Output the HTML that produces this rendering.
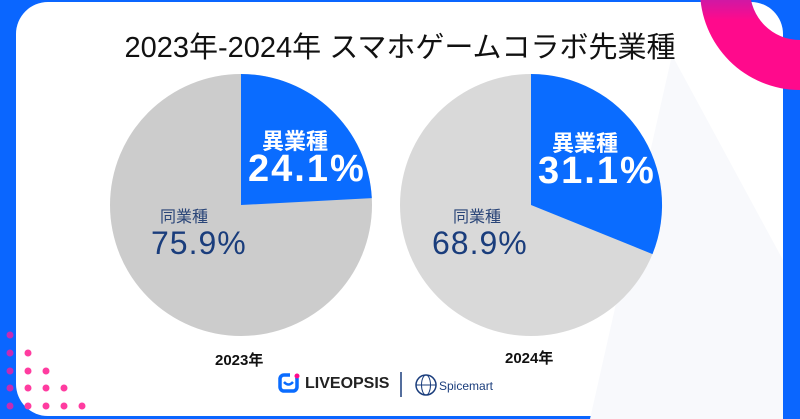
<!DOCTYPE html>
<html><head><meta charset="utf-8"><style>
html,body{margin:0;padding:0;}
body{width:800px;height:419px;overflow:hidden;background:#0a66ff;position:relative;font-family:"Liberation Sans","Noto Sans CJK JP",sans-serif;}
.card{position:absolute;left:16px;top:2px;width:767px;height:414px;background:#fff;border-radius:32px;overflow:hidden;}
.t{position:absolute;white-space:nowrap;}
</style></head><body>
<div class="card"></div>
<svg width="800" height="419" style="position:absolute;left:0;top:0">
<defs><linearGradient id="g" x1="0" y1="0" x2="0" y2="1"><stop offset="0" stop-color="#b81fb0"/><stop offset="0.3" stop-color="#ff0a8c"/><stop offset="1" stop-color="#ff0a8c"/></linearGradient></defs>
<polygon points="672,55 590,419 783,419 783,260" fill="#f8f9fc"/>
<path d="M700,-10 A100,100 0 0 0 800,90 L800,40 A50,50 0 0 1 750,-10 Z" fill="url(#g)"/>
<circle cx="241" cy="205" r="131" fill="#cccccc"/>
<path d="M241,205 L241,74 A131,131 0 0 1 371.8,198.1 Z" fill="#0a6cff"/>
<circle cx="531" cy="205" r="131" fill="#d9d9d9"/>
<path d="M531,205 L531,74 A131,131 0 0 1 652.5,254.1 Z" fill="#0a6cff"/>
<g fill="#ff3ca0">
<circle cx="10" cy="335" r="3.5" fill="#c42bb4"/>
<circle cx="10" cy="353" r="3.5" fill="#c42bb4"/><circle cx="28" cy="353" r="3.5"/>
<circle cx="10" cy="371" r="3.5" fill="#c42bb4"/><circle cx="28" cy="371" r="3.5"/><circle cx="46" cy="371" r="3.5"/>
<circle cx="10" cy="388" r="3.5" fill="#c42bb4"/><circle cx="28" cy="388" r="3.5"/><circle cx="46" cy="388" r="3.5"/><circle cx="64" cy="388" r="3.5"/>
<circle cx="10" cy="406" r="3.5" fill="#c42bb4"/><circle cx="28" cy="406" r="3.5"/><circle cx="46" cy="406" r="3.5"/><circle cx="64" cy="406" r="3.5"/><circle cx="82" cy="406" r="3.5"/>
</g>
<rect x="280" y="375" width="17" height="16" rx="4" fill="none" stroke="#0a6cff" stroke-width="3.5"/>
<rect x="290" y="370" width="10" height="8" fill="#fff"/>
<circle cx="297" cy="376" r="2.5" fill="#ff0a8c"/>
<path d="M284,382 Q288.5,387 293,382" fill="none" stroke="#0a6cff" stroke-width="2.5"/>
<line x1="401" y1="372" x2="401" y2="397" stroke="#1a3d7c" stroke-width="1.5"/>
<circle cx="426" cy="385" r="10" fill="none" stroke="#1a3d7c" stroke-width="1.5"/>
<ellipse cx="426" cy="385" rx="4.5" ry="10" fill="none" stroke="#1a3d7c" stroke-width="1"/>
<line x1="416" y1="385" x2="436" y2="385" stroke="#1a3d7c" stroke-width="1"/>
</svg>
<div class="t" style="left:0;width:800px;text-align:center;top:24px;font-size:29px;color:#111;">2023年-2024年 スマホゲームコラボ先業種</div>
<div class="t" style="left:262px;top:124px;font-size:22px;font-weight:bold;color:#fff;">異業種</div>
<div class="t" style="left:248px;top:148px;font-size:38px;font-weight:bold;color:#fff;letter-spacing:2px;">24.1%</div>
<div class="t" style="left:160px;top:203px;font-size:16px;color:#2a4578;">同業種</div>
<div class="t" style="left:151px;top:225px;font-size:32px;color:#1a3d7c;letter-spacing:1px;">75.9%</div>
<div class="t" style="left:552px;top:126px;font-size:22px;font-weight:bold;color:#fff;">異業種</div>
<div class="t" style="left:538px;top:150px;font-size:38px;font-weight:bold;color:#fff;letter-spacing:2px;">31.1%</div>
<div class="t" style="left:453px;top:203px;font-size:16px;color:#2a4578;">同業種</div>
<div class="t" style="left:432px;top:225px;font-size:32px;color:#1a3d7c;letter-spacing:1px;">68.9%</div>
<div class="t" style="left:215px;top:349px;font-size:15px;font-weight:bold;color:#111;">2023年</div>
<div class="t" style="left:505px;top:347px;font-size:15px;font-weight:bold;color:#111;">2024年</div>
<div class="t" style="left:305px;top:375px;font-size:16px;font-weight:bold;color:#222;">LIVEOPSIS</div>
<div class="t" style="left:439px;top:379px;font-size:12px;color:#1a3d7c;">Spicemart</div>
</body></html>
